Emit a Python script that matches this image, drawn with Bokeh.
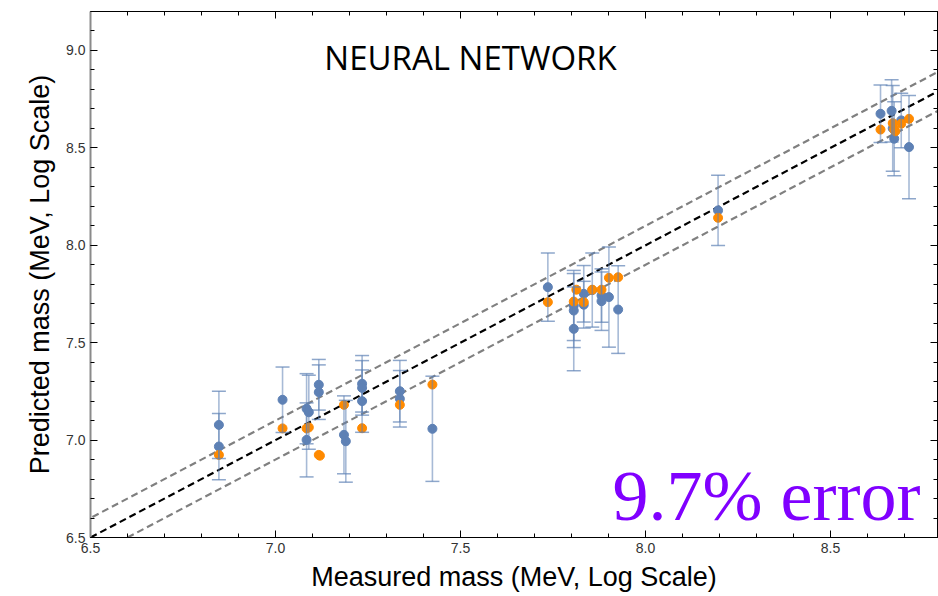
from bokeh.plotting import figure
from bokeh.models import (ColumnDataSource, Whisker, TeeHead, Range1d, LinearAxis,
                          SingleIntervalTicker, PrintfTickFormatter, Label, Slope,
                          CustomJSTickFormatter)
from bokeh.embed import file_html
from bokeh.resources import INLINE

# ---- data (log of mass in MeV) ----
nn_x = [6.847, 6.847, 7.019, 7.084, 7.090, 7.084, 7.117, 7.117, 7.185, 7.190,
        7.234, 7.234, 7.234, 7.336, 7.336, 7.424, 7.736, 7.806, 7.806, 7.806,
        7.833, 7.833, 7.856, 7.881, 7.881, 7.901, 7.926, 8.196,
        8.635, 8.665, 8.668, 8.672, 8.691, 8.712]
nn_y = [7.078, 6.967, 7.207, 7.161, 7.143, 7.001, 7.284, 7.246, 7.027, 6.994,
        7.289, 7.268, 7.200, 7.251, 7.212, 7.058, 7.785, 7.691, 7.665, 7.571,
        7.751, 7.695, 7.770, 7.742, 7.713, 7.734, 7.670, 8.179,
        8.675, 8.690, 8.600, 8.547, 8.641, 8.504]
nn_err = [0.173, 0.170, 0.168, 0.180, 0.190, 0.190, 0.130, 0.140, 0.200, 0.210,
          0.145, 0.140, 0.160, 0.158, 0.145, 0.270, 0.175, 0.180, 0.190, 0.215,
          0.145, 0.120, 0.190, 0.137, 0.150, 0.257, 0.225, 0.180,
          0.148, 0.160, 0.220, 0.190, 0.140, 0.265]

alt_x = [6.847, 7.019, 7.084, 7.090, 7.117, 7.120, 7.185, 7.234, 7.336, 7.424,
         7.736, 7.813, 7.806, 7.833, 7.856, 7.881, 7.901, 7.926, 8.196,
         8.635, 8.668, 8.672, 8.675, 8.691, 8.712]
alt_y = [6.924, 7.060, 7.060, 7.065, 6.924, 6.920, 7.181, 7.061, 7.181, 7.285,
         7.708, 7.772, 7.711, 7.708, 7.772, 7.772, 7.833, 7.836, 8.141,
         8.594, 8.627, 8.594, 8.585, 8.624, 8.649]

band_offsets = [0.1, -0.1]
x_ticks_interval = 0.5
title_text = "NEURAL NETWORK"
error_text = "9.7% error"

BLUE = "#5E81B5"
ORANGE = "#FF8A00"

p = figure(width=938, height=596, output_backend="svg", toolbar_location=None,
           x_range=Range1d(6.5, 8.789), y_range=Range1d(6.5, 9.2),
           min_border_left=90, min_border_right=1, min_border_top=11,
           min_border_bottom=59, background_fill_color="white",
           border_fill_color="white", outline_line_color="black")
p.grid.visible = False

for ax in (p.xaxis[0], p.yaxis[0]):
    ax.ticker = SingleIntervalTicker(interval=x_ticks_interval, num_minor_ticks=5)
    ax.formatter = PrintfTickFormatter(format="%.1f")
    ax.major_tick_in = 7
    ax.major_tick_out = 0
    ax.minor_tick_in = 4
    ax.minor_tick_out = 0
    ax.major_label_text_font = "Liberation Sans"
    ax.major_label_text_font_size = "14px"
    ax.major_label_text_color = "#333333"
    ax.axis_label_text_font = "Liberation Sans"
    ax.axis_label_text_font_size = "27px"
    ax.axis_label_text_font_style = "normal"
    ax.axis_label_text_color = "black"
    ax.major_label_standoff = 5

p.xaxis.axis_label = "Measured mass (MeV, Log Scale)"
p.yaxis.axis_label = "Predicted mass (MeV, Log Scale)"
p.xaxis.axis_label_standoff = 6
p.yaxis.axis_label_standoff = 8
p.xaxis.axis_line_color = "black"
p.yaxis.axis_line_color = "#8a8a8a"
p.yaxis.axis_line_width = 2

for loc in ("above", "right"):
    ax = LinearAxis(ticker=SingleIntervalTicker(interval=x_ticks_interval, num_minor_ticks=5),
                    formatter=CustomJSTickFormatter(code="return ''"),
                    major_tick_in=7, major_tick_out=0, minor_tick_in=4, minor_tick_out=0,
                    major_label_text_font_size="1px", major_label_standoff=0,
                    axis_line_color="black")
    p.add_layout(ax, loc)

# reference lines
lines = [Slope(gradient=1, y_intercept=off, line_color="#808080", line_width=2.2,
               line_dash="7 4") for off in band_offsets]
lines.append(Slope(gradient=1, y_intercept=0, line_color="black", line_width=2.2,
                   line_dash="7 4"))
for s in lines:
    s.level = "underlay"
    p.add_layout(s)

src = ColumnDataSource(dict(x=nn_x, y=nn_y,
                            upper=[a + e for a, e in zip(nn_y, nn_err)],
                            lower=[a - e for a, e in zip(nn_y, nn_err)]))
w = Whisker(source=src, base="x", upper="upper", lower="lower", dimension="height",
            line_color=BLUE, line_alpha=0.55, line_width=1.6,
            upper_head=TeeHead(size=14, line_color=BLUE, line_alpha=0.7, line_width=1.5),
            lower_head=TeeHead(size=14, line_color=BLUE, line_alpha=0.7, line_width=1.5))
w.level = "glyph"
p.add_layout(w)

p.scatter("x", "y", source=src, size=9, fill_color=BLUE, line_color=BLUE)
p.scatter(alt_x, alt_y, size=9, fill_color=ORANGE, line_color=ORANGE)

p.add_layout(Label(x=7.527, y=8.964, text=title_text, text_align="center",
                   text_baseline="middle", text_font="Open Sans",
                   text_font_size="33px", text_color="black"))
p.add_layout(Label(x=7.911, y=6.715, text=error_text, text_align="left",
                   text_baseline="alphabetic", text_font="Liberation Serif",
                   text_font_size="72px", text_color="#8000FF"))

open("out.html", "w").write(file_html(p, INLINE))
